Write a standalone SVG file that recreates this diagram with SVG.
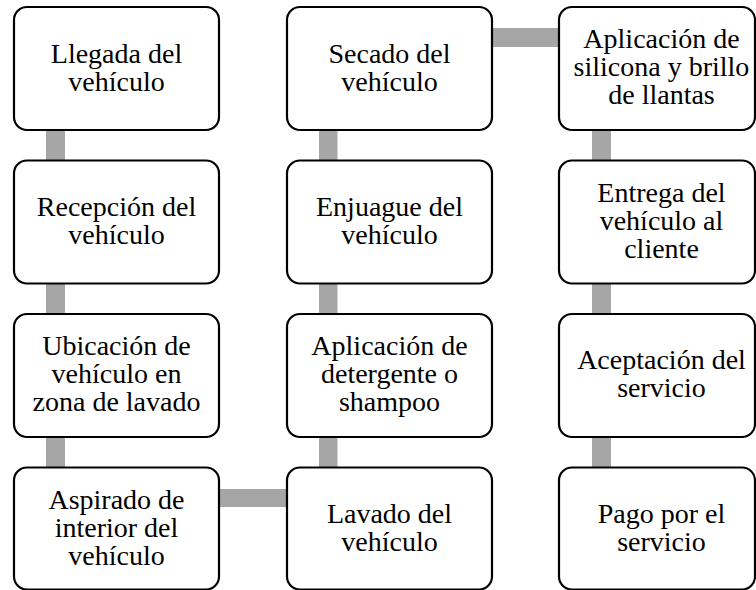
<svg xmlns="http://www.w3.org/2000/svg" width="756" height="590" viewBox="0 0 756 590">
<style>
.box{fill:#fff;stroke:#000;stroke-width:2.2}
.bar{fill:#a6a6a6}
.lbl{font-family:'Times New Roman',Tinos,'Liberation Serif',serif;font-size:28px;text-anchor:middle;fill:#000}
</style>
<rect width="756" height="590" fill="#fff"/>
<g id="connectors">
<rect class="bar" x="46" y="129" width="19" height="33"/>
<rect class="bar" x="46" y="282" width="19" height="33"/>
<rect class="bar" x="46" y="436" width="19" height="33"/>
<rect class="bar" x="218" y="489" width="70" height="18"/>
<rect class="bar" x="319" y="436" width="18.5" height="33"/>
<rect class="bar" x="319" y="282" width="18.5" height="33"/>
<rect class="bar" x="319" y="129" width="18.5" height="33"/>
<rect class="bar" x="491" y="28" width="69" height="19"/>
<rect class="bar" x="592" y="129" width="19" height="33"/>
<rect class="bar" x="592" y="282" width="19" height="33"/>
<rect class="bar" x="592" y="436" width="19" height="33"/>
</g>
<g id="n1"><rect class="box" x="14" y="7" width="205" height="123" rx="13"/>
<text class="lbl" x="116.5" y="63">Llegada del</text>
<text class="lbl" x="116.5" y="91">vehículo</text></g>
<g id="n2"><rect class="box" x="14" y="160.5" width="205" height="123" rx="13"/>
<text class="lbl" x="116.5" y="216">Recepción del</text>
<text class="lbl" x="116.5" y="244">vehículo</text></g>
<g id="n3"><rect class="box" x="14" y="314" width="205" height="123" rx="13"/>
<text class="lbl" x="116.5" y="355">Ubicación de</text>
<text class="lbl" x="116.5" y="383">vehículo en</text>
<text class="lbl" x="116.5" y="411">zona de lavado</text></g>
<g id="n4"><rect class="box" x="14" y="467.5" width="205" height="122" rx="13"/>
<text class="lbl" x="116.5" y="509">Aspirado de</text>
<text class="lbl" x="116.5" y="537">interior del</text>
<text class="lbl" x="116.5" y="565">vehículo</text></g>
<g id="n5"><rect class="box" x="287" y="467.5" width="205" height="122" rx="13"/>
<text class="lbl" x="389.5" y="523">Lavado del</text>
<text class="lbl" x="389.5" y="551">vehículo</text></g>
<g id="n6"><rect class="box" x="287" y="314" width="205" height="123" rx="13"/>
<text class="lbl" x="389.5" y="355">Aplicación de</text>
<text class="lbl" x="389.5" y="383">detergente o</text>
<text class="lbl" x="389.5" y="411">shampoo</text></g>
<g id="n7"><rect class="box" x="287" y="160.5" width="205" height="123" rx="13"/>
<text class="lbl" x="389.5" y="216">Enjuague del</text>
<text class="lbl" x="389.5" y="244">vehículo</text></g>
<g id="n8"><rect class="box" x="287" y="7" width="205" height="123" rx="13"/>
<text class="lbl" x="389.5" y="63">Secado del</text>
<text class="lbl" x="389.5" y="91">vehículo</text></g>
<g id="n9"><rect class="box" x="559" y="7" width="196" height="123" rx="13"/>
<text class="lbl" x="661.5" y="48">Aplicación de</text>
<text class="lbl" x="661.5" y="76">silicona y brillo</text>
<text class="lbl" x="661.5" y="104">de llantas</text></g>
<g id="n10"><rect class="box" x="559" y="160.5" width="196" height="123" rx="13"/>
<text class="lbl" x="661.5" y="202">Entrega del</text>
<text class="lbl" x="661.5" y="230">vehículo al</text>
<text class="lbl" x="661.5" y="258">cliente</text></g>
<g id="n11"><rect class="box" x="559" y="314" width="196" height="123" rx="13"/>
<text class="lbl" x="661.5" y="369">Aceptación del</text>
<text class="lbl" x="661.5" y="397">servicio</text></g>
<g id="n12"><rect class="box" x="559" y="467.5" width="196" height="122" rx="13"/>
<text class="lbl" x="661.5" y="523">Pago por el</text>
<text class="lbl" x="661.5" y="551">servicio</text></g>
</svg>
